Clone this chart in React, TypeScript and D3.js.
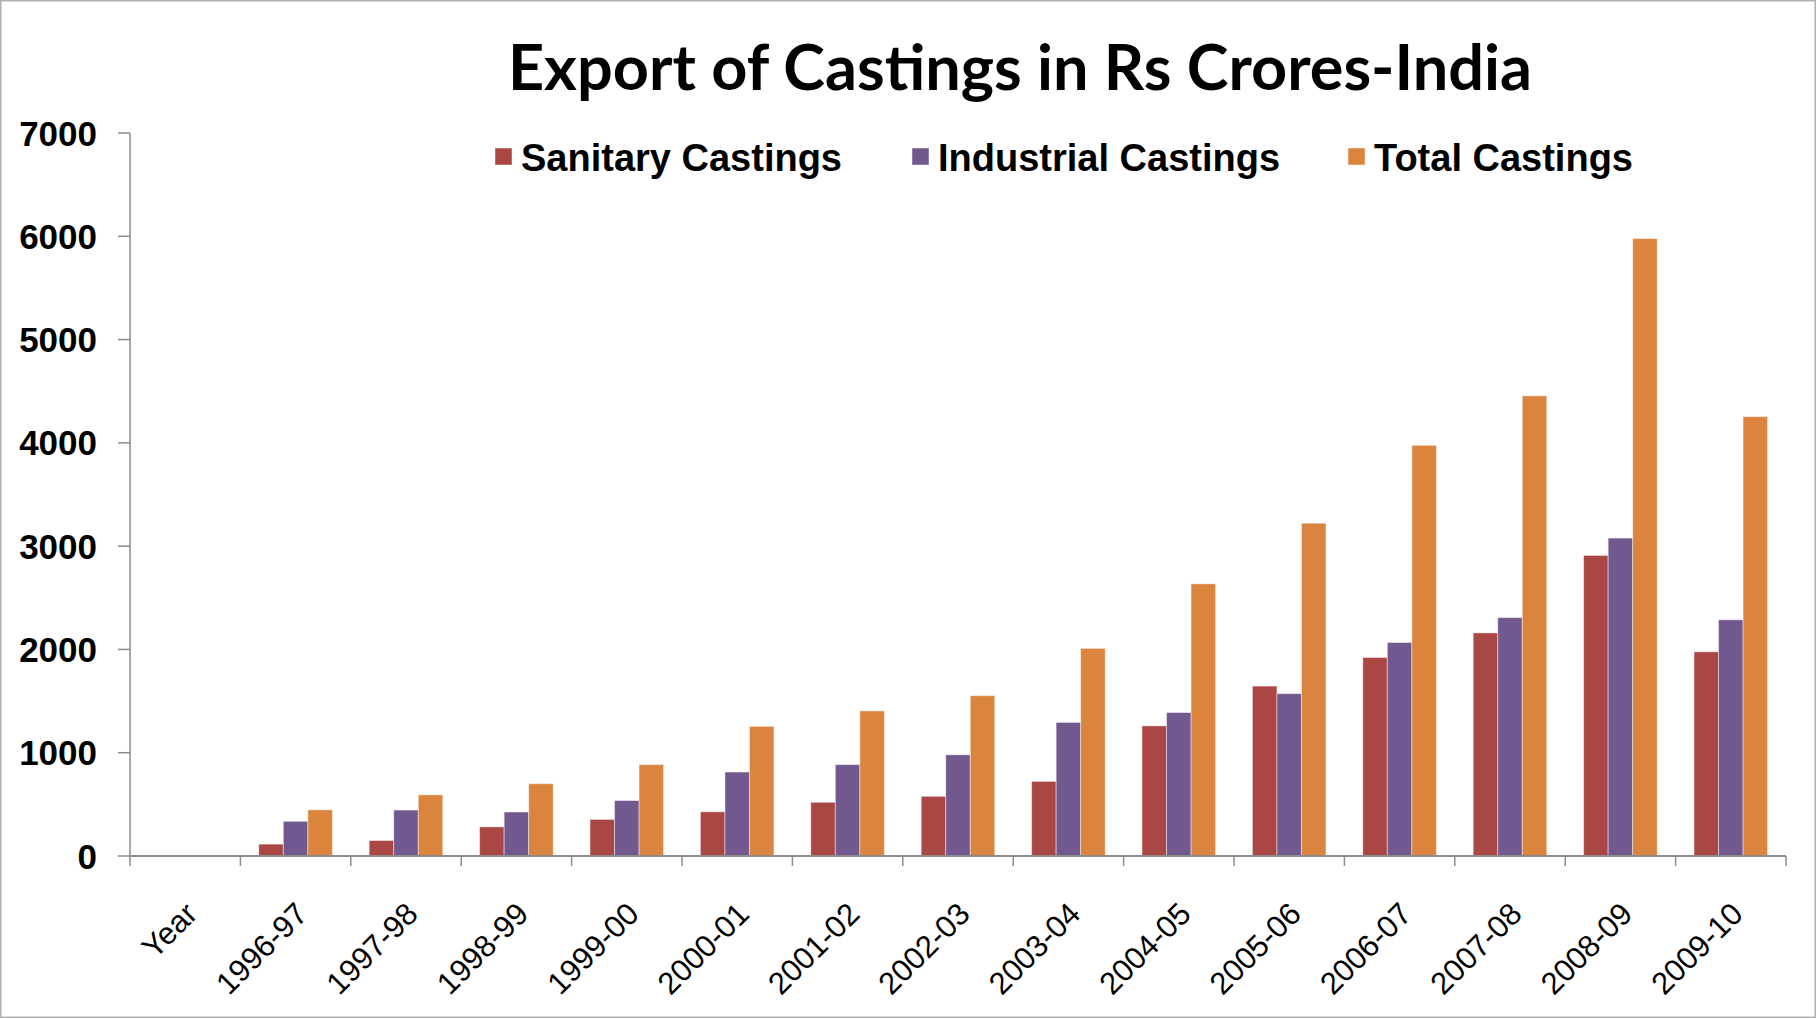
import React from "react";
import * as d3 from "d3";

const categories = ["Year", "1996-97", "1997-98", "1998-99", "1999-00", "2000-01", "2001-02", "2002-03", "2003-04", "2004-05", "2005-06", "2006-07", "2007-08", "2008-09", "2009-10"];
const seriesNames = ["Sanitary Castings", "Industrial Castings", "Total Castings"];
const sanitary = [null, 115, 150, 282, 354, 428, 520, 578, 722, 1260, 1645, 1922, 2160, 2910, 1977];
const industrial = [null, 336, 445, 426, 537, 813, 885, 980, 1293, 1389, 1572, 2067, 2308, 3078, 2287];
const total = [null, 447, 592, 700, 885, 1255, 1405, 1552, 2010, 2635, 3222, 3976, 4455, 5978, 4254];
const yTicks = [0, 1000, 2000, 3000, 4000, 5000, 6000, 7000];
const colors = ["#AA4643", "#71588F", "#DB843D"];
const title = "Export of Castings in Rs Crores-India";

const W = 1817;
const H = 1019;

export default function App() {
  const seriesValues = [sanitary, industrial, total];
  const x = d3.scaleBand<string>().domain(categories).range([130, 1786]).paddingInner(0).paddingOuter(0);
  const xs = d3.scaleBand<string>().domain(seriesNames).range([0, x.bandwidth()]).paddingInner(0).paddingOuter(0.75);
  const y = d3.scaleLinear().domain([0, 7000]).range([856, 133]);
  const boundaries = d3.range(categories.length + 1).map((i) => 130 + i * x.step());
  const legendX = [495, 912, 1348];
  const axisColor = "#8C8C8C";

  return (
    <svg width={W} height={H} style={{ position: "absolute", left: 0, top: 0, background: "#fff" }}>
      <rect x={0.75} y={0.75} width={W - 2.5} height={H - 2.5} fill="#fff" stroke="#B0B0B0" strokeWidth={1.5} />
      <text x={1020} y={90} textAnchor="middle" fontFamily="Lato, 'Open Sans', sans-serif" fontWeight={700} fontSize={63} fill="#000">
        {title}
      </text>
      {/* bars */}
      {seriesValues.map((vals, si) =>
        vals.map((v, ci) =>
          v == null ? null : (
            <rect
              key={`${si}-${ci}`}
              x={(x(categories[ci]) as number) + (xs(seriesNames[si]) as number)}
              y={y(v)}
              width={xs.bandwidth()}
              height={y(0) - y(v)}
              fill={colors[si]}
              stroke="#ffffff"
              strokeOpacity={0.45}
              strokeWidth={1}
            />
          )
        )
      )}
      {/* y axis */}
      <line x1={130} x2={130} y1={y(7000)} y2={y(0)} stroke={axisColor} strokeWidth={1.5} />
      {yTicks.map((t) => (
        <g key={t}>
          <line x1={118} x2={130} y1={y(t)} y2={y(t)} stroke={axisColor} strokeWidth={1.5} />
          <text x={97} y={y(t)} dy="0.36em" textAnchor="end" fontFamily="'Liberation Sans', Arial, sans-serif" fontWeight={700} fontSize={35} fill="#000">
            {t}
          </text>
        </g>
      ))}
      {/* x axis */}
      <line x1={130} x2={1786} y1={y(0)} y2={y(0)} stroke={axisColor} strokeWidth={2} />
      {boundaries.map((b, i) => (
        <line key={i} x1={b} x2={b} y1={y(0)} y2={y(0) + 10} stroke={axisColor} strokeWidth={1.5} />
      ))}
      {categories.map((c) => {
        const cx = (x(c) as number) + x.bandwidth() / 2;
        return (
          <text
            key={c}
            transform={`translate(${cx - 2},${900}) rotate(-45)`}
            dy="0.72em"
            textAnchor="end"
            fontFamily="'Liberation Sans', Arial, sans-serif"
            fontSize={31}
            fill="#000"
          >
            {c}
          </text>
        );
      })}
      {/* legend */}
      {seriesNames.map((s, i) => (
        <g key={s}>
          <rect x={legendX[i]} y={148} width={17} height={17} fill={colors[i]} stroke="#fff" strokeOpacity={0.45} />
          <text x={legendX[i] + 26} y={171} fontFamily="'Liberation Sans', Arial, sans-serif" fontWeight={700} fontSize={38} fill="#000">
            {s}
          </text>
        </g>
      ))}
    </svg>
  );
}
